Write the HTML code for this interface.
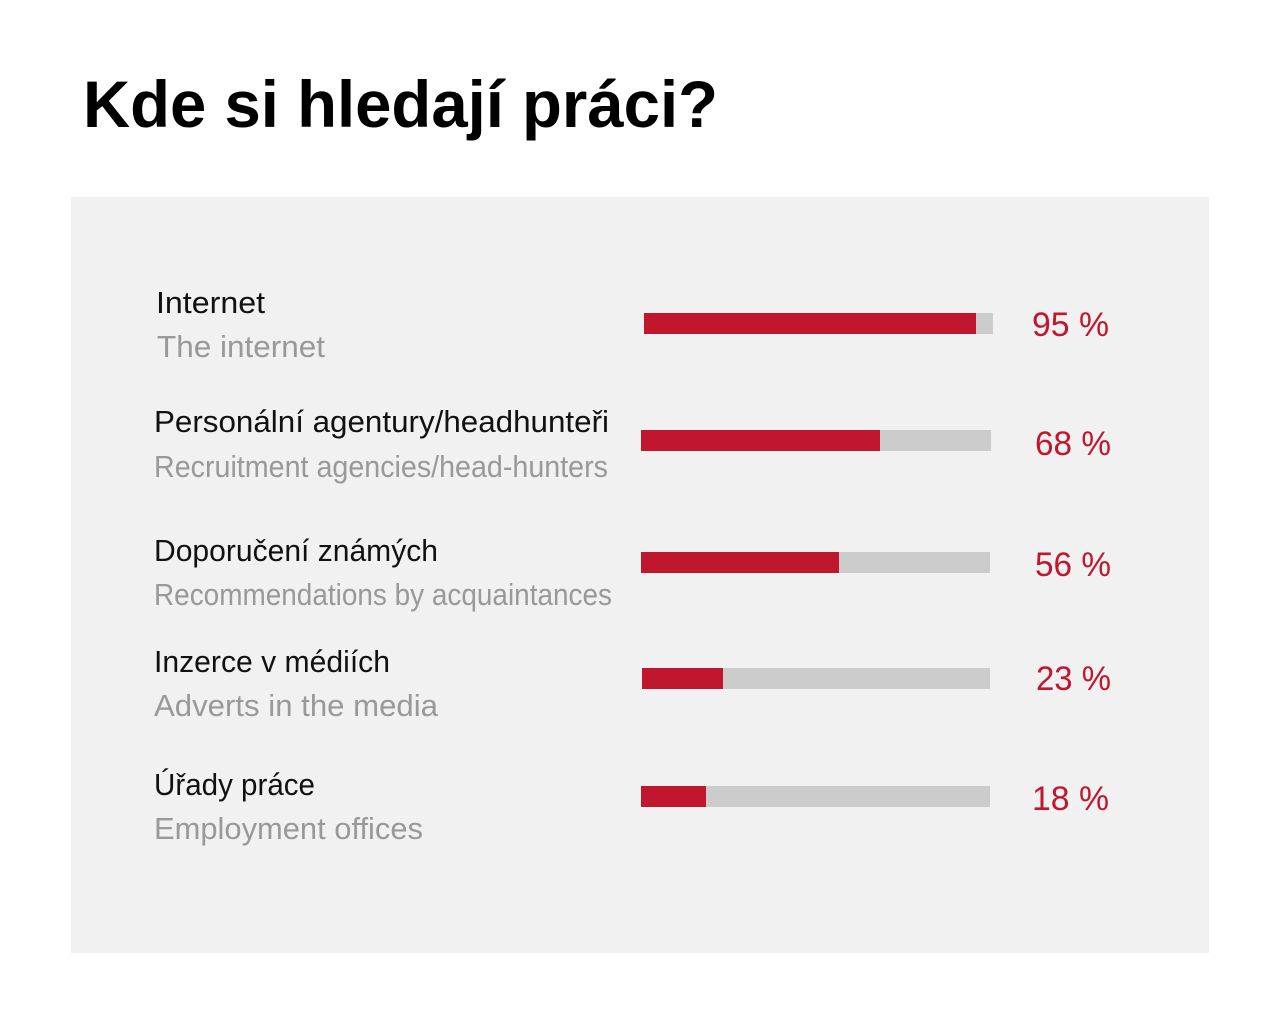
<!DOCTYPE html>
<html><head><meta charset="utf-8"><style>html,body{margin:0;padding:0;background:#fff}svg{display:block}</style></head>
<body>
<svg width="1280" height="1019" xmlns="http://www.w3.org/2000/svg" font-family="Liberation Sans, DejaVu Sans, sans-serif">
<rect x="0" y="0" width="1280" height="1019" fill="#fff"/>
<text x="83" y="127" font-size="66" font-weight="bold" fill="#000" textLength="635" lengthAdjust="spacingAndGlyphs">Kde si hledají práci?</text>
<rect x="71" y="197" width="1138" height="756" fill="#f1f1f1"/>
<g font-size="31">
<text x="156" y="313" fill="#111" textLength="109" lengthAdjust="spacingAndGlyphs">Internet</text>
<text x="157" y="357" fill="#999" textLength="168" lengthAdjust="spacingAndGlyphs">The internet</text>
<text x="154" y="432" fill="#111" textLength="455" lengthAdjust="spacingAndGlyphs">Personální agentury/headhunteři</text>
<text x="154" y="477" fill="#999" textLength="454" lengthAdjust="spacingAndGlyphs">Recruitment agencies/head-hunters</text>
<text x="154" y="561" fill="#111" textLength="284" lengthAdjust="spacingAndGlyphs">Doporučení známých</text>
<text x="154" y="605" fill="#999" textLength="458" lengthAdjust="spacingAndGlyphs">Recommendations by acquaintances</text>
<text x="154" y="672" fill="#111" textLength="236" lengthAdjust="spacingAndGlyphs">Inzerce v médiích</text>
<text x="154" y="716" fill="#999" textLength="284" lengthAdjust="spacingAndGlyphs">Adverts in the media</text>
<text x="154" y="795" fill="#111" textLength="161" lengthAdjust="spacingAndGlyphs">Úřady práce</text>
<text x="154" y="839" fill="#999" textLength="269" lengthAdjust="spacingAndGlyphs">Employment offices</text>
</g>
<g fill="#cccccc">
<rect x="644" y="313" width="349" height="21"/>
<rect x="641" y="430" width="350" height="21"/>
<rect x="641" y="552" width="349" height="21"/>
<rect x="642" y="668" width="348" height="21"/>
<rect x="641" y="786" width="349" height="21"/>
</g>
<g fill="#c0172e">
<rect x="644" y="313" width="332" height="21"/>
<rect x="641" y="430" width="239" height="21"/>
<rect x="641" y="552" width="198" height="21"/>
<rect x="642" y="668" width="81" height="21"/>
<rect x="641" y="786" width="65" height="21"/>
</g>
<g font-size="34" fill="#c0172e">
<text x="1032" y="336" textLength="77" lengthAdjust="spacingAndGlyphs">95 %</text>
<text x="1035" y="455" textLength="76" lengthAdjust="spacingAndGlyphs">68 %</text>
<text x="1035" y="576" textLength="76" lengthAdjust="spacingAndGlyphs">56 %</text>
<text x="1036" y="690" textLength="75" lengthAdjust="spacingAndGlyphs">23 %</text>
<text x="1032" y="810" textLength="77" lengthAdjust="spacingAndGlyphs">18 %</text>
</g>
</svg>
</body></html>
